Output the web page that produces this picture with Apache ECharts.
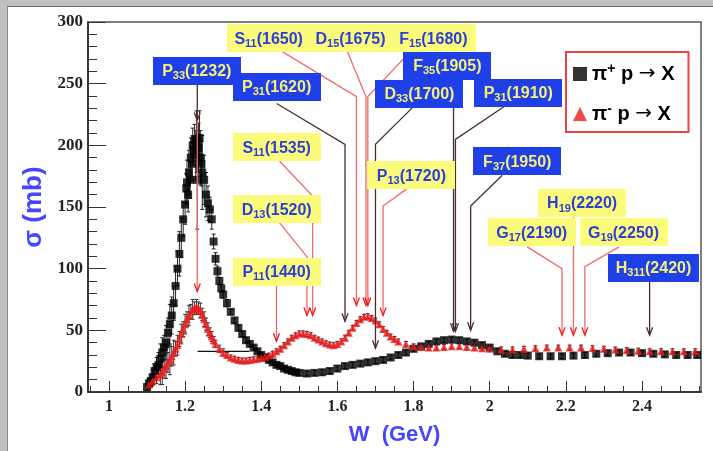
<!DOCTYPE html>
<html><head><meta charset="utf-8">
<script src="https://cdn.jsdelivr.net/npm/echarts@6/dist/echarts.min.js"></script>
<style>html,body{margin:0;padding:0;background:#fff}#c{width:713px;height:451px}</style>
</head><body><div id="c"></div>
<script>
// ---------------- DATA ----------------
// pi+ p -> X  : W (GeV), sigma (mb), error (mb)
const piPlusW = [1.100,1.105,1.110,1.115,1.120,1.125,1.130,1.135,1.140,1.145,1.150,1.155,1.160,1.165,1.170,1.175,1.180,1.185,1.190,1.195,1.200,1.203,1.205,1.208,1.210,1.213,1.215,1.218,1.220,1.222,1.225,1.228,1.230,1.232,1.235,1.238,1.240,1.243,1.245,1.250,1.255,1.260,1.265,1.270,1.275,1.280,1.285,1.290,1.295,1.300,1.310,1.320,1.330,1.340,1.350,1.360,1.370,1.380,1.390,1.400,1.410,1.420,1.430,1.440,1.450,1.460,1.470,1.480,1.490,1.500,1.520,1.540,1.560,1.580,1.600,1.620,1.640,1.660,1.680,1.700,1.720,1.740,1.760,1.780,1.800,1.820,1.840,1.860,1.880,1.900,1.920,1.940,1.960,1.980,2.000,2.020,2.040,2.060,2.080,2.100,2.130,2.160,2.190,2.220,2.250,2.280,2.310,2.340,2.370,2.400,2.430,2.460,2.490,2.520,2.545];
const piPlusSigma = [4,7,9,12,17,20,22,27,32,36,40,48,55,62,72,86,100,112,125,140,152,165,170,160,178,172,190,185,200,196,205,192,203,172,198,206,190,185,178,172,160,153,148,140,122,108,98,90,84,79,72,65,58,52,47,42,39,36,33,30,28,26,24,22,21,19,18,17,16,15.5,15,15.5,16,17,19,21,22,23,24,25,26,28,30,32,35,37,39,41,42,42.5,42,41,40,38,36,33,31,30,30,29.5,29,29,29,29.5,30,31,31.5,32,32,31.5,31,30.5,30,30,30];
const piPlusErr = [3,4,5,6,6,8,10,12,12,10,14,12,16,15,14,16,14,18,16,14,16,12,18,14,18,15,16,14,14,12,12,20,25,40,20,22,22,18,30,20,18,14,10,8,6,5,4,3,3,3,3,2,2,2,2,2,2,2,2,2,2,2,2,2,2,2,2,2,2,2,2,2,2,2,2,2,2,2,2,2,2,2,2,2,2,2,2,2,2,2,2,2,2,2,2,2,2,2,2,2,2,2,2,2,2,2,2,2,2,2,2,2,2,2,2];
// pi- p -> X
const piMinusW = [1.105,1.115,1.125,1.135,1.140,1.145,1.150,1.155,1.160,1.165,1.170,1.175,1.180,1.185,1.190,1.195,1.200,1.205,1.210,1.215,1.220,1.225,1.230,1.235,1.240,1.245,1.250,1.255,1.260,1.265,1.270,1.275,1.280,1.290,1.300,1.310,1.320,1.330,1.340,1.350,1.360,1.370,1.380,1.390,1.400,1.410,1.420,1.430,1.440,1.450,1.460,1.470,1.480,1.490,1.500,1.510,1.520,1.530,1.540,1.550,1.560,1.570,1.580,1.590,1.600,1.610,1.620,1.630,1.640,1.650,1.660,1.670,1.680,1.690,1.700,1.710,1.720,1.730,1.740,1.750,1.760,1.780,1.800,1.820,1.840,1.860,1.880,1.900,1.920,1.940,1.960,1.980,2.000,2.030,2.060,2.090,2.120,2.150,2.180,2.210,2.240,2.270,2.300,2.330,2.360,2.390,2.420,2.450,2.480,2.510,2.540];
const piMinusSigma = [6,9,12,14,16,19,21,24,26,29,32,35,38,43,47,51,55,59,62,65,67,68,69,68,66,63,59,55,51,48,45,42,39,35,32,30,28,27,26,25.5,25.5,26,26.5,27,27.5,28.5,29.5,31,33,35,38,41,44,46,47.5,47.5,47,46,44,42.5,41,39.5,38.5,38,39,41,44,48,52,56,59,61,61.5,60,58,55,51,48,45,43,41,39,37,36.5,36,36,36.5,37,37,36.5,36,35.5,35,34.5,34.5,35,35.5,36,36,36,36,35.5,35,34.5,34,33.5,33,33,33,33,33];
const piMinusErr = [3,4,5,8,10,8,10,8,12,8,10,6,8,6,8,6,8,6,8,6,8,5,6,5,6,5,6,5,5,4,4,3,3,3,3,2,2,2,2,2,2,2,2,2,2,2,2,2,2,2,2,2,2,2,2,2,2,2,2,2,2,2,2,2,2,2,2,2,2,2,2,2,2,2,2,2,2,2,2,2,2,2,2,2,2,2,2,2,2,2,2,2,2,2,2,2,2,2,2,2,2,2,2,2,2,2,2,2,2,2,2];
// one point with a wide W error: W, sigma, half width in W
const wideW = [1.301];
const wideSigma = [33];
const wideWErr = [0.068];

// resonances
const resSymbol = ['P','P','D','F','P','F','H','S','D','F','S','D','P','P','G','H','G'];
const resIndex  = ['33','31','33','35','31','37','311','11','15','15','11','13','11','13','17','19','19'];
const resMass   = [1232,1620,1700,1905,1910,1950,2420,1650,1675,1680,1535,1520,1440,1720,2190,2220,2250];
const resFamily = ['D','D','D','D','D','D','D','N','N','N','N','N','N','N','N','N','N'];

// axis ticks
const xMajorTicks = [1, 1.2, 1.4, 1.6, 1.8, 2, 2.2, 2.4];
const xMinorTicks = [0.95,1.05,1.1,1.15,1.25,1.3,1.35,1.45,1.5,1.55,1.65,1.7,1.75,1.85,1.9,1.95,2.05,2.1,2.15,2.25,2.3,2.35,2.45,2.5,2.55];

// ---------------- LAYOUT of annotations (data units) ----------------
const annLayout = [
  {lab:[1.2307,260.5], from:[1.232,249.2], bend:249.2, tip:220.2, tipRed:81.5},
  {lab:[1.4405,247.6], from:[1.4405,233.9], bend:200.8, tip:57.3},
  {lab:[1.8154,241.9], from:[1.7971,230.6], bend:200.8, tip:35.5},
  {lab:[1.8888,264.5], from:[1.905,253.2], bend:253.2, tip:49.2},
  {lab:[2.0750,242.7], from:[2.0383,231.5], bend:204.8, tip:49.2},
  {lab:[2.0724,187.1], from:[2.0330,175.8], bend:150.8, tip:50},
  {lab:[2.4303,100.8], from:[2.42,89.5], bend:89.5, tip:46, w:91},
  {lab:[1.4195,286.7], from:[1.4562,275.8], bend:239.5, tip:70.2, w:84},
  {lab:[1.6345,286.7], from:[1.6266,275.8], bend:239.5, tip:70.2, w:84},
  {lab:[1.8521,286.7], from:[1.791,275.8], bend:239.5, tip:70.2, w:86},
  {lab:[1.4405,198.4], from:[1.4483,187.1], bend:158.9, tip:62.1},
  {lab:[1.4405,148.0], from:[1.4483,137.1], bend:109.7, tip:62.1},
  {lab:[1.4405,97.6],  from:[1.44,86.3], bend:86.3, tip:41.1},
  {lab:[1.7944,175.8], from:[1.7813,164.5], bend:150.8, tip:62.1},
  {lab:[2.1104,129.4], from:[2.0986,117.7], bend:100, tip:46},
  {lab:[2.2428,153.2], from:[2.22,141.9], bend:141.9, tip:46},
  {lab:[2.3516,129.4], from:[2.3398,117.7], bend:101.6, tip:46}
];

const DARK = '#4a2e2e', PINK = '#f06a6a', RED = '#ee1c1c';
const BLUEBOX = '#1f3fe8', YELTXT = '#f4f07a', YELBOX = '#fcfc7c', BLUETXT = '#2b3fd6';

const plusData = piPlusW.map((w,i)=>[w, piPlusSigma[i], piPlusErr[i]]);
const minusData = piMinusW.map((w,i)=>[w, piMinusSigma[i], piMinusErr[i]]);
const annData = resMass.map((m,i)=>[m/1000, annLayout[i].tip, i]);

function errBars(color){
  return function(params, api){
    const x = api.value(0), y = api.value(1), e = api.value(2);
    const a = api.coord([x, y+e]), b = api.coord([x, y-e]);
    return {type:'group', children:[
      {type:'line', shape:{x1:a[0],y1:a[1],x2:b[0],y2:b[1]}, style:{stroke:color, lineWidth:1}},
      {type:'line', shape:{x1:a[0]-2,y1:a[1],x2:a[0]+2,y2:a[1]}, style:{stroke:color, lineWidth:1}},
      {type:'line', shape:{x1:b[0]-2,y1:b[1],x2:b[0]+2,y2:b[1]}, style:{stroke:color, lineWidth:1}}
    ]};
  };
}
function arrowHead(p, col){
  return {type:'polyline', shape:{points:[[p[0]-3,p[1]-8],[p[0],p[1]],[p[0]+3,p[1]-8]]}, style:{stroke:col, lineWidth:1.3, fill:'none'}};
}
function renderLines(params, api){
  const i = api.value(2), L = annLayout[i], m = resMass[i]/1000;
  const col = resFamily[i]==='D' ? DARK : PINK;
  const p0 = api.coord(L.from), p1 = api.coord([m, L.bend]), p2 = api.coord([m, L.tip]);
  const ch = [
    {type:'polyline', shape:{points:[p0,p1,p2]}, style:{stroke:col, lineWidth:1.3, fill:'none'}},
    arrowHead(p2, resFamily[i]==='D' ? DARK : RED)
  ];
  if (L.tipRed != null){
    const p3 = api.coord([m, L.tipRed]);
    ch.push({type:'line', shape:{x1:p2[0],y1:p2[1],x2:p3[0],y2:p3[1]}, style:{stroke:PINK, lineWidth:1.3}});
    ch.push(arrowHead(p3, RED));
  }
  return {type:'group', children:ch};
}
function renderBoxes(params, api){
  const i = api.value(2), L = annLayout[i];
  const c = api.coord(L.lab);
  const w = L.w || 88, h = 28;
  const d = resFamily[i]==='D';
  const bg = d ? BLUEBOX : YELBOX, fg = d ? YELTXT : BLUETXT;
  return {type:'group', children:[
    {type:'rect', shape:{x:Math.round(c[0]-w/2), y:Math.round(c[1]-h/2), width:w, height:h}, style:{fill:bg}},
    {type:'text', style:{
      x:c[0], y:c[1]+1, align:'center', verticalAlign:'middle',
      text:'{m|'+resSymbol[i]+'}{s|'+resIndex[i]+'}{m|('+resMass[i]+')}',
      fill:fg,
      rich:{
        m:{fontSize:16, fontWeight:'bold', fontFamily:'Liberation Sans', fill:fg, lineHeight:20},
        s:{fontSize:11, fontWeight:'bold', fontFamily:'Liberation Sans', fill:fg, lineHeight:11, verticalAlign:'bottom'}
      }
    }}
  ]};
}

const chart = echarts.init(document.getElementById('c'), null, {renderer:'canvas'});
chart.setOption({
  animation:false,
  backgroundColor:'#fff',
  graphic:[
    {type:'rect', shape:{x:0,y:0,width:713,height:6}, style:{fill:'#c0c0c0'}, silent:true},
    {type:'rect', shape:{x:0,y:0,width:7,height:451}, style:{fill:'#c0c0c0'}, silent:true},
    {type:'line', shape:{x1:7,y1:6.5,x2:713,y2:6.5}, style:{stroke:'#6e6e6e', lineWidth:1}},
    {type:'line', shape:{x1:7.5,y1:6,x2:7.5,y2:451}, style:{stroke:'#8a8a8a', lineWidth:1}}
  ],
  grid:{left:88, top:22, right:12, bottom:57, show:true, borderColor:'#555', borderWidth:1.5, backgroundColor:'transparent'},
  legend:{
    left:566, top:52, orient:'vertical',
    data:['pip','pim'],
    borderColor:'#f04040', borderWidth:2, padding:[10,14,8,7],
    itemWidth:14, itemHeight:14, itemGap:18,
    formatter: n => n==='pip' ? '{t|π}{sp|+}{t| p }{ar|→}{t| X}' : '{t|π}{sp|-}{t| p }{ar|→}{t| X}',
    textStyle:{rich:{
      t:{fontSize:20, fontWeight:'bold', fontFamily:'Liberation Sans', color:'#000', lineHeight:24},
      ar:{fontSize:20, fontFamily:'DejaVu Sans', color:'#000', lineHeight:24},
      sp:{fontSize:14, fontWeight:'bold', fontFamily:'Liberation Sans', color:'#000', lineHeight:14, verticalAlign:'top'}
    }}
  },
  xAxis:[{
    type:'value', min:0.945, max:2.555,
    name:'W  (GeV)', nameLocation:'middle', nameGap:32,
    nameTextStyle:{color:'#4646ff', fontSize:22, fontWeight:'bold', fontFamily:'Liberation Sans'},
    axisLine:{show:true, onZero:false, lineStyle:{color:'#222', width:1.5}},
    axisTick:{show:true, inside:true, length:11, customValues:xMajorTicks, lineStyle:{color:'#333'}},
    axisLabel:{customValues:xMajorTicks, formatter:v=>String(+(+v).toFixed(1)), fontFamily:'Liberation Serif', fontWeight:'bold', fontSize:16, color:'#222', margin:7},
    splitLine:{show:false}
  },{
    type:'value', min:0.945, max:2.555, position:'bottom',
    axisLine:{show:false}, axisLabel:{show:false}, splitLine:{show:false},
    axisTick:{show:true, inside:true, length:6, customValues:xMinorTicks, lineStyle:{color:'#333'}}
  }],
  yAxis:{
    type:'value', min:0, max:300, interval:50,
    name:'σ (mb)', nameLocation:'middle', nameGap:34, nameRotate:90,
    nameTextStyle:{color:'#4646ff', fontSize:26, fontWeight:'bold', fontFamily:'Liberation Sans'},
    axisLine:{show:true, lineStyle:{color:'#222', width:1.5}},
    axisTick:{show:true, inside:true, length:18, lineStyle:{color:'#333'}},
    minorTick:{show:true, splitNumber:5, length:9, lineStyle:{color:'#333'}},
    axisLabel:{fontFamily:'Liberation Serif', fontWeight:'bold', fontSize:17, color:'#222', margin:5},
    splitLine:{show:false}
  },
  series:[
    {type:'custom', name:'errP', renderItem:errBars('#222'), data:plusData, z:1, silent:true},
    {type:'custom', name:'errM', renderItem:errBars('#333'), data:minusData, z:1, silent:true},
    {type:'custom', name:'wide', data:wideW.map((w,i)=>[w, wideSigma[i], wideWErr[i]]), z:1, silent:true,
      renderItem:(p,api)=>{const a=api.coord([api.value(0)-api.value(2),api.value(1)]), b=api.coord([api.value(0)+api.value(2),api.value(1)]);
        return {type:'line', shape:{x1:a[0],y1:a[1],x2:b[0],y2:b[1]}, style:{stroke:'#111', lineWidth:1.3}};}},
    {type:'scatter', name:'pip', symbol:'rect', symbolSize:8, itemStyle:{color:'#000'}, data:plusData.map(d=>[d[0],d[1]]), z:2},
    {type:'scatter', name:'pim', symbol:'triangle', symbolSize:8, itemStyle:{color:RED}, data:minusData.map(d=>[d[0],d[1]]), z:3},
    {type:'custom', name:'annLines', renderItem:renderLines, data:annData, z:4, silent:true},
    {type:'custom', name:'annBoxes', renderItem:renderBoxes, data:annData, z:5, silent:true}
  ]
});
</script></body></html>
